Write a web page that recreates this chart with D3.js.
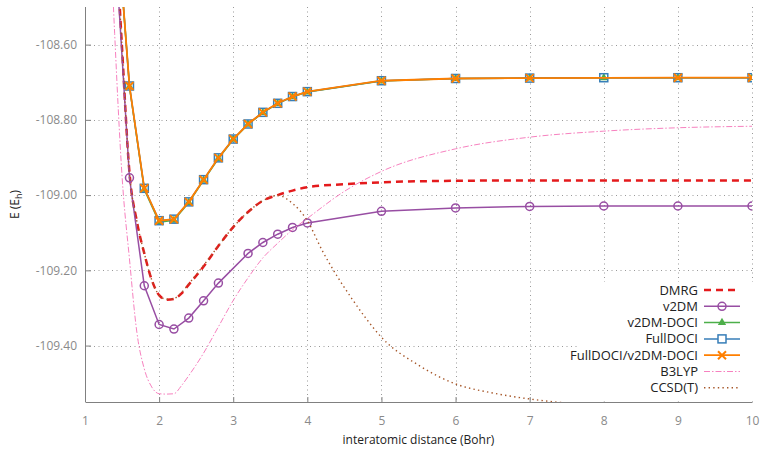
<!DOCTYPE html>
<html>
<head>
<meta charset="utf-8">
<script src="https://cdn.jsdelivr.net/npm/d3@7"></script>
<style>
  body { margin: 0; background: #fff; }
  svg text { font-family: "Open Sans", sans-serif; }
</style>
</head>
<body>
<div id="chart"></div>
<script>
// x positions (Bohr) and energies (E_h)
var xDoci = [1.4, 1.6, 1.8, 2.0, 2.2, 2.4, 2.6, 2.8, 3.0, 3.2, 3.4, 3.6, 3.8, 4.0, 5, 6, 7, 8, 9, 10];
var fullDoci = [-108.19, -108.710, -108.982, -109.068, -109.064, -109.018, -108.959, -108.901, -108.851, -108.811, -108.780, -108.756, -108.738, -108.725, -108.696, -108.690, -108.689, -108.688, -108.688, -108.688];
var v2dmDoci = [-108.19, -108.712, -108.985, -109.072, -109.067, -109.020, -108.961, -108.903, -108.852, -108.812, -108.781, -108.757, -108.739, -108.726, -108.697, -108.690, -108.689, -108.688, -108.688, -108.688];
var fullV2dmDoci = [-108.19, -108.710, -108.982, -109.068, -109.064, -109.018, -108.959, -108.901, -108.851, -108.811, -108.780, -108.756, -108.738, -108.725, -108.696, -108.690, -108.689, null, -108.688, -108.688];

var xV2dm = [1.4, 1.6, 1.8, 2.0, 2.2, 2.4, 2.6, 2.8, 3.2, 3.4, 3.6, 3.8, 4.0, 5, 6, 7, 8, 9, 10];
var v2dm = [-108.31, -108.954, -109.241, -109.344, -109.356, -109.327, -109.281, -109.234, -109.155, -109.126, -109.104, -109.086, -109.074, -109.043, -109.034, -109.030, -109.029, -109.029, -109.029];

var xDmrg = [1.4, 1.5, 1.6, 1.7, 1.8, 1.9, 2.0, 2.1, 2.2, 2.3, 2.4, 2.6, 2.8, 3.0, 3.2, 3.4, 3.6, 3.8, 4.0, 4.5, 5, 6, 7, 8, 9, 10];
var dmrg = [-108.25, -108.61, -108.94, -109.07, -109.155, -109.225, -109.266, -109.278, -109.276, -109.262, -109.238, -109.19, -109.135, -109.085, -109.045, -109.015, -109.0, -108.988, -108.979, -108.971, -108.966, -108.962, -108.961, -108.961, -108.961, -108.961];

var xB3lyp = [1.3, 1.4, 1.5, 1.6, 1.7, 1.8, 1.9, 2.0, 2.1, 2.2, 2.3, 2.4, 2.6, 2.8, 3.0, 3.2, 3.4, 3.6, 3.8, 4.0, 4.5, 5, 6, 7, 8, 9, 10];
var b3lyp = [-108.1, -108.57, -108.95, -109.17, -109.365, -109.462, -109.51, -109.528, -109.529, -109.528, -109.507, -109.48, -109.42, -109.35, -109.28, -109.22, -109.167, -109.128, -109.092, -109.062, -108.99, -108.937, -108.877, -108.846, -108.830, -108.821, -108.817];

var xCcsd = [1.4, 1.5, 1.6, 1.7, 1.8, 1.9, 2.0, 2.1, 2.2, 2.3, 2.4, 2.6, 2.8, 3.0, 3.2, 3.4, 3.6, 3.8, 4.0, 4.2, 4.4, 4.6, 4.8, 5.0, 5.5, 6.0, 6.5, 7.0, 7.5, 8, 9, 10];
var ccsd = [-108.25, -108.61, -108.94, -109.07, -109.155, -109.225, -109.266, -109.277, -109.275, -109.26, -109.236, -109.187, -109.135, -109.085, -109.045, -109.015, -109.001, -109.022, -109.068, -109.147, -109.215, -109.275, -109.33, -109.378, -109.452, -109.502, -109.526, -109.542, -109.553, -109.562, -109.57, -109.575];

var xTicks = [1, 2, 3, 4, 5, 6, 7, 8, 9, 10];
var yTicks = [-108.6, -108.8, -109.0, -109.2, -109.4];
var legendNames = ['DMRG', 'v2DM', 'v2DM-DOCI', 'FullDOCI', 'FullDOCI/v2DM-DOCI', 'B3LYP', 'CCSD(T)'];

var width = 762, height = 450;
var padLeft = 85, padRight = 752, padTop = 7, padBottom = 402;

var x = d3.scaleLinear().domain([1, 10]).range([padLeft, padRight]);
var y = d3.scaleLinear().domain([-109.55, -108.50]).range([padBottom, padTop]);

var svg = d3.select('#chart').append('svg').attr('width', width).attr('height', height);

svg.append('defs').append('clipPath').attr('id', 'plotClip')
  .append('rect').attr('x', padLeft).attr('y', padTop).attr('width', padRight - padLeft).attr('height', padBottom - padTop);

// grid
var grid = svg.append('g').attr('stroke', '#9a9a9a').attr('stroke-width', 1).attr('stroke-dasharray', '1,3.5');
grid.selectAll('line.gx').data(xTicks.slice(1)).enter().append('line')
  .attr('x1', function(d) { return Math.round(x(d)) + 0.5; }).attr('x2', function(d) { return Math.round(x(d)) + 0.5; })
  .attr('y1', padTop).attr('y2', padBottom);
grid.selectAll('line.gy').data(yTicks).enter().append('line')
  .attr('x1', padLeft).attr('x2', padRight)
  .attr('y1', function(d) { return Math.round(y(d)) + 0.5; }).attr('y2', function(d) { return Math.round(y(d)) + 0.5; });

// axes
var xAxis = svg.append('g').attr('transform', 'translate(0,' + padBottom + ')')
  .call(d3.axisBottom(x).tickValues(xTicks).tickSizeInner(-5).tickSizeOuter(0).tickPadding(14).tickFormat(d3.format('d')));
var yAxis = svg.append('g').attr('transform', 'translate(' + padLeft + ',0)')
  .call(d3.axisLeft(y).tickValues(yTicks).tickSizeInner(-6).tickSizeOuter(0).tickPadding(8)
    .tickFormat(function(d) { return d.toFixed(2); }));
[xAxis, yAxis].forEach(function(a) {
  a.select('.domain').attr('stroke', '#808080');
  a.selectAll('.tick line').attr('stroke', '#808080');
  a.selectAll('.tick text').attr('fill', '#8a8a8a').style('font-size', '12px').style('font-family', '"Open Sans", sans-serif');
});
yAxis.select('.domain').attr('d', 'M0.5,' + padTop + 'V' + padBottom);

svg.append('text').attr('x', (padLeft + padRight) / 2).attr('y', 444).attr('text-anchor', 'middle')
  .style('font-size', '12px').attr('fill', '#222').text('interatomic distance (Bohr)');
var yl = svg.append('text').attr('transform', 'translate(19,' + ((padTop + padBottom) / 2) + ') rotate(-90)')
  .attr('text-anchor', 'middle').style('font-size', '12px').attr('fill', '#222');
yl.append('tspan').text('E (E');
yl.append('tspan').attr('dy', 3).style('font-size', '9px').text('h');
yl.append('tspan').attr('dy', -3).text(')');

var plot = svg.append('g').attr('clip-path', 'url(#plotClip)');

function pts(xs, ys) {
  return xs.map(function(d, i) { return {x: d, y: ys[i]}; }).filter(function(p) { return p.y !== null; });
}

var series = [
  {name: 'DMRG', xs: xDmrg, ys: dmrg, color: '#e41a1c', width: 2.5, dash: '7,5', curve: d3.curveMonotoneX, marker: null},
  {name: 'v2DM', xs: xV2dm, ys: v2dm, color: '#984ea3', width: 1.5, dash: null, curve: d3.curveLinear, marker: 'circle'},
  {name: 'v2DM-DOCI', xs: xDoci, ys: v2dmDoci, color: '#4daf4a', width: 1.5, dash: null, curve: d3.curveLinear, marker: 'triangle'},
  {name: 'FullDOCI', xs: xDoci, ys: fullDoci, color: '#377eb8', width: 1.5, dash: null, curve: d3.curveLinear, marker: 'square'},
  {name: 'FullDOCI/v2DM-DOCI', xs: xDoci, ys: fullV2dmDoci, color: '#ff7f00', width: 1.8, dash: null, curve: d3.curveLinear, marker: 'cross'},
  {name: 'B3LYP', xs: xB3lyp, ys: b3lyp, color: '#f781bf', width: 1, dash: '6,2,1.5,2', curve: d3.curveMonotoneX, marker: null},
  {name: 'CCSD(T)', xs: xCcsd, ys: ccsd, color: '#a65628', width: 1.4, dash: '1.4,3.2', curve: d3.curveMonotoneX, marker: null}
];

function drawMarker(g, type, color) {
  if (type === 'circle') {
    g.append('circle').attr('r', 4).attr('fill', 'none').attr('stroke', color).attr('stroke-width', 1.5);
  } else if (type === 'triangle') {
    g.append('path').attr('d', d3.symbol().type(d3.symbolTriangle).size(30)).attr('fill', color);
  } else if (type === 'square') {
    g.append('rect').attr('x', -4).attr('y', -4).attr('width', 8).attr('height', 8)
      .attr('fill', 'none').attr('stroke', color).attr('stroke-width', 1.5);
  } else if (type === 'cross') {
    g.append('path').attr('d', 'M-4,-4L4,4M-4,4L4,-4').attr('stroke', color).attr('stroke-width', 2);
  }
}

series.forEach(function(s) {
  var data = pts(s.xs, s.ys);
  var line = d3.line().x(function(d) { return x(d.x); }).y(function(d) { return y(d.y); }).curve(s.curve);
  plot.append('path').datum(data).attr('d', line).attr('fill', 'none')
    .attr('stroke', s.color).attr('stroke-width', s.width).attr('stroke-dasharray', s.dash);
  if (s.marker) {
    plot.selectAll(null).data(data).enter().append('g')
      .attr('transform', function(d) { return 'translate(' + x(d.x) + ',' + y(d.y) + ')'; })
      .each(function() { drawMarker(d3.select(this), s.marker, s.color); });
  }
});

// legend
svg.append('rect').attr('x', 577).attr('y', 282).attr('width', 179).attr('height', padBottom - 282 - 0.5).attr('fill', '#fff');
var legend = svg.append('g');
series.forEach(function(s, i) {
  var ly = 290 + i * 16.3;
  var row = legend.append('g').attr('transform', 'translate(0,' + ly + ')');
  row.append('text').attr('x', 698).attr('y', 4.5).attr('text-anchor', 'end')
    .style('font-size', '13px').attr('fill', '#222').text(legendNames[i]);
  row.append('line').attr('x1', 704).attr('x2', 740).attr('y1', 0).attr('y2', 0)
    .attr('stroke', s.color).attr('stroke-width', s.width).attr('stroke-dasharray', s.dash);
  if (s.marker) {
    var m = row.append('g').attr('transform', 'translate(722,0)');
    if (s.marker === 'square') {
      m.append('rect').attr('x', -4).attr('y', -4).attr('width', 8).attr('height', 8).attr('fill', '#fff');
    }
    drawMarker(m, s.marker, s.color);
  }
});
</script>
</body>
</html>
